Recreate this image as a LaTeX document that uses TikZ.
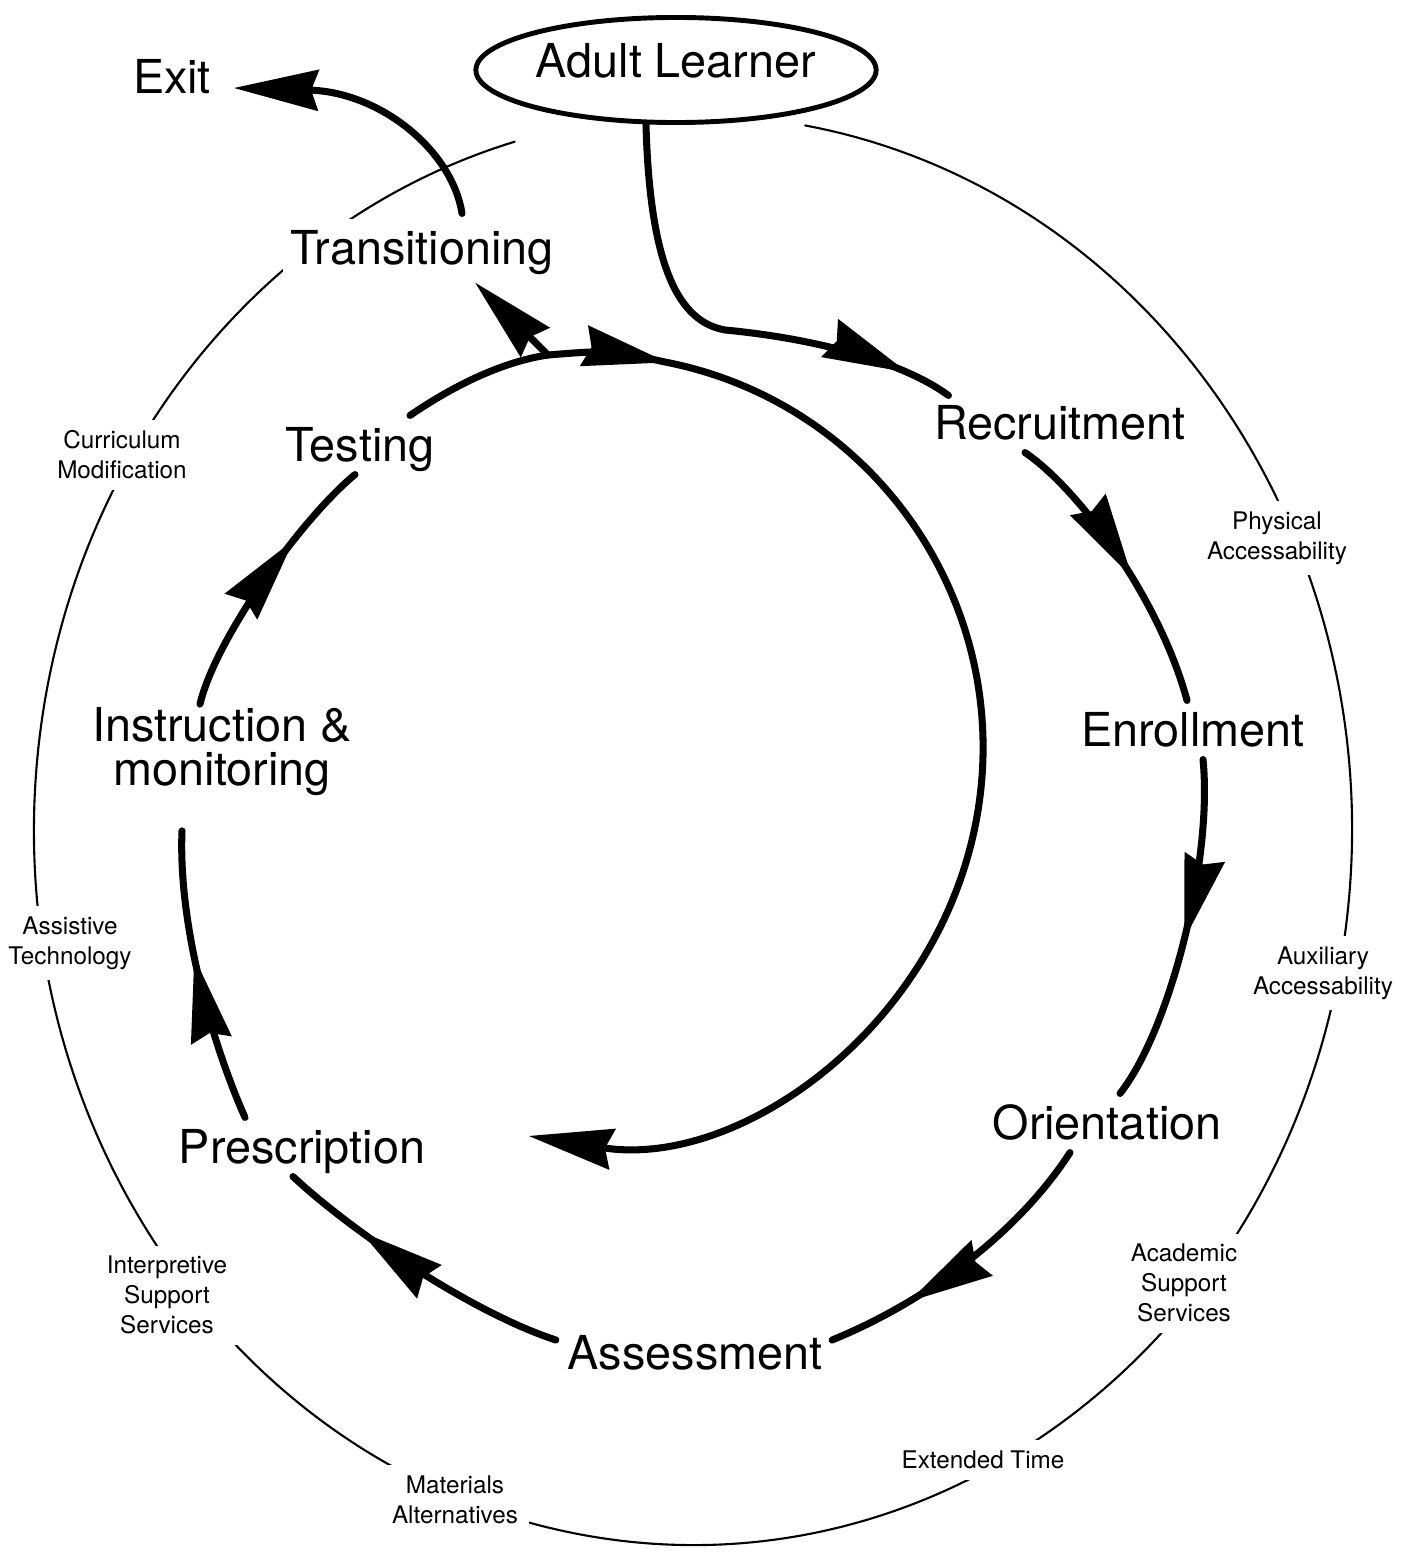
\documentclass[tikz,border=0pt]{standalone}
\usepackage{fontspec}
\setmainfont{TeX Gyre Heros}
\usetikzlibrary{arrows.meta, calc, decorations.markings, shapes.geometric}

\tikzset{
  ring/.style={line width=0.6pt},
  flow/.style={line width=2pt},
  stagefont/.style={font=\fontsize{13.3}{12.5}\selectfont, fill=white, inner sep=2pt},
  stage/.style={stagefont, text height=11pt, text depth=1.4pt},
  aid/.style={font=\fontsize{6.9}{8.5}\selectfont, fill=white, inner sep=3pt, align=center},
  learner/.style={draw, ellipse, line width=1.4pt, minimum width=4cm, minimum height=1.05cm, inner sep=0pt, text depth=5.7pt, font=\fontsize{13.3}{14}\selectfont},
  endhead/.style={-{Stealth[length=24pt, width=11.5pt, inset=2pt]}},
  midhead/.style={postaction={decorate}, decoration={markings, mark=at position #1 with {\arrow{Stealth[length=24pt, width=11.5pt, inset=2pt]}}}}
}

\begin{document}
\begin{tikzpicture}[x=0.01cm, y=-0.01cm, line cap=round, line join=round]
    \useasboundingbox (0,0) rectangle (1406,1555);

    \draw[ring] (693,830) ++(-80.2:659 and 715) arc[start angle=-80.2, end angle=254.3, x radius=659, y radius=715];

    \node[learner] (adult) at (676,70) {Adult Learner};
    \node[stage] (exit) at (172,77) {Exit};
    \node[stage] (trans) at (422,248) {Transitioning};
    \node[stage] (testing) at (360,445) {Testing};
    \node[stagefont, align=center] (instr) at (222,752) {Instruction \&\\monitoring};
    \node[stage] (presc) at (302,1147) {Prescription};
    \node[stage] (assess) at (695,1353) {Assessment};
    \node[stage] (orient) at (1107,1123) {Orientation};
    \node[stage] (enroll) at (1193,730) {Enrollment};
    \node[stage] (recruit) at (1060,423) {Recruitment};

    \node[aid] (physical) at (1277,538) {Physical\\Accessability};
    \node[aid] (auxiliary) at (1323,973) {Auxiliary\\Accessability};
    \node[aid] (academic) at (1184,1283) {Academic\\Support\\Services};
    \node[aid] (extended) at (983,1460) {Extended Time};
    \node[aid] (materials) at (455,1500) {Materials\\Alternatives};
    \node[aid] (interp) at (167,1295) {Interpretive\\Support\\Services};
    \node[aid] (assistive) at (70,943) {Assistive\\Technology};
    \node[aid] (curric) at (122,455) {Curriculum\\Modification};

    \coordinate (junc) at (548,355);
    \coordinate (loop) at (665,362);

    \draw[flow, midhead=0.9] ($(adult.south)+(-30,0)$) .. controls (650,270) and (680,322) .. (725,330)
        .. controls (810,338) and (900,360) .. ($(recruit.north west)+(22,2)$);
    \draw[flow, midhead=0.55] ($(recruit.south)+(-35,0)$) .. controls (1080,490) and (1160,600) .. ($(enroll.north)+(-6,0)$);
    \draw[flow, midhead=0.52] ($(enroll.south)+(10,0)$) .. controls (1213,860) and (1170,1030) .. ($(orient.north)+(13,0)$);
    \draw[flow, midhead=0.72] ($(orient.south)+(-37,0)$) .. controls (1020,1230) and (930,1300) .. ($(assess.east)+(2,-13)$);
    \draw[flow, midhead=0.72] ($(assess.west)+(-4,-13)$) .. controls (470,1312) and (350,1230) .. ($(presc.south)+(-9,0)$);
    \draw[flow, midhead=0.57] ($(presc.north)+(-57,0)$) .. controls (215,1050) and (178,930) .. ($(instr.south)+(-40,27)$);
    \draw[flow, midhead=0.68] ($(instr.north)+(-22,4)$) .. controls (215,640) and (300,520) .. ($(testing.south)+(-5,0)$);
    \draw[flow] ($(testing.north)+(50,0)$) .. controls (450,388) and (500,362) .. (junc);
    \draw[flow, endhead] (junc) -- ($(trans.south)+(53,5)$);
    \draw[flow, endhead, midhead=0.09] (junc) .. controls (610,350) .. (loop) arc[start angle=-79, end angle=99, radius=393];
    \draw[flow, endhead] ($(trans.north)+(40,-5)$) .. controls (452,150) and (380,92) .. ($(exit.east)+(15,11)$);
\end{tikzpicture}
\end{document}
